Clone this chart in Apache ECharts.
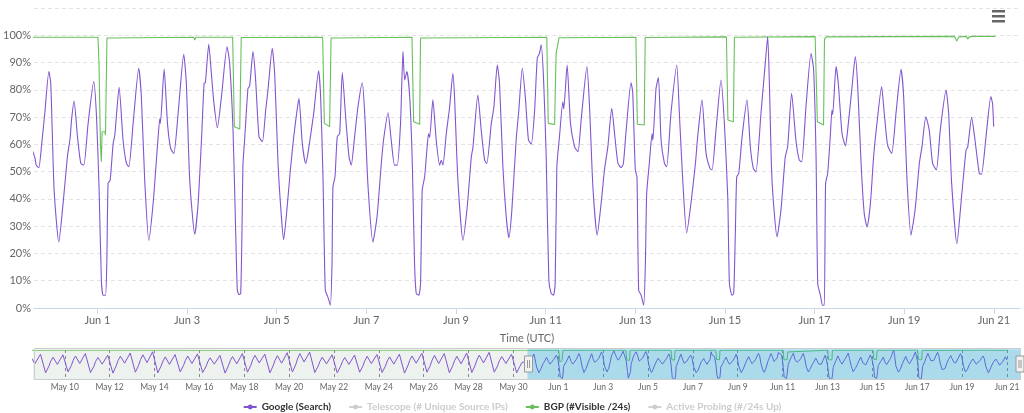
<!DOCTYPE html>
<html><head><meta charset="utf-8">
<script src="https://cdn.jsdelivr.net/npm/echarts@6/dist/echarts.min.js"></script>
<style>html,body{margin:0;padding:0;background:#fff}#c{width:1024px;height:413px}</style>
</head><body><div id="c"></div>
<script>
// ---------- DATA ----------
// times are hours relative to Jun 1 00:00 UTC
const seriesNames = ['Google (Search)', 'Telescope (# Unique Source IPs)', 'BGP (#Visible /24s)', 'Active Probing (#/24s Up)'];
const monthNames = ['Jan','Feb','Mar','Apr','May','Jun','Jul','Aug','Sep','Oct','Nov','Dec'];

// early period (navigator only), one row per day from May 8, values at earlyHours
const earlyFirstDay = 8;
const earlyHours = [3.5, 7, 9, 11.5, 16, 22];
const googleEarly = [
  [26,47,64,78,54,86],[24,46,63,76,52,84],[27,48,66,80,55,88],[25,45,62,75,53,83],
  [23,47,65,79,56,90],[26,49,68,84,58,94],[24,46,63,77,52,85],[27,48,65,80,55,87],
  [25,44,61,74,53,82],[23,47,64,78,54,88],[26,49,67,82,57,86],[24,48,66,81,56,91],
  [27,50,70,88,60,93],[25,46,62,76,54,84],[24,45,61,75,52,83],[26,47,64,79,55,85],
  [25,46,63,77,53,86],[23,47,65,80,56,89],[26,48,66,82,55,88],[24,47,64,79,54,90],
  [25,49,67,83,57,92],[26,47,64,78,55,86],[24,46,58,60]
];
const googleMain = [
[-33.5,55.1],[-32.8,52.4],[-31.4,51.4],[-30.0,59.1],[-28.2,71.4],[-26.0,86.7],[-25.0,82.4],[-23.2,43.2],[-20.7,24.2],[-18.4,38.3],[-16.1,55.4],[-14.6,62.5],[-13.9,68.9],[-12.5,75.9],[-10.7,62.8],[-8.9,53.0],[-7.3,52.4],[-5.0,67.7],[-2.0,83.0],[-0.5,70.1],
[0.9,43.2],[2.1,10.2],[3.0,4.7],[4.3,4.7],[5.0,16.3],[5.7,45.7],[6.8,46.9],[8.4,60.3],[9.3,63.4],[11.6,80.9],[13.7,61.6],[15.5,53.0],[16.8,51.8],[19.1,67.7],[22.1,87.9],[23.5,77.5],
[25.3,46.9],[27.5,24.8],[29.8,38.3],[32.1,59.1],[33.4,69.5],[33.7,67.7],[35.7,87.6],[37.5,67.7],[39.2,58.5],[40.9,56.7],[43.2,71.4],[46.2,93.0],[47.6,82.4],
[49.4,46.9],[52.1,27.0],[53.9,38.3],[55.7,61.6],[57.1,82.4],[57.8,82.6],[59.6,96.7],[61.0,86.0],[62.3,75.6],[64.2,66.1],[66.4,77.5],[69.4,95.8],
[70.8,89.7],[72.6,65.2],[74.0,28.5],[74.9,6.5],[75.8,4.9],[76.7,5.3],[77.4,28.5],[77.9,52.4],[78.8,61.6],[80.6,80.5],[81.5,81.4],[83.3,94.0],[84.7,83.6],[86.5,62.8],[88.3,61.0],[90.1,72.6],[91.3,79.9],[93.6,95.2],[94.9,86.0],
[96.7,53.0],[98.5,33.4],[99.7,25.1],[101.1,33.4],[103.3,50.6],[105.1,62.8],[106.9,72.6],[107.9,76.9],[109.7,60.3],[111.5,53.0],[112.7,56.7],[115.8,71.4],[118.4,87.0],[119.5,77.5],
[120.8,46.9],[122.0,6.5],[123.4,4.0],[124.7,1.0],[125.6,16.3],[126.1,44.4],[127.2,48.1],[128.4,62.8],[129.7,64.0],[131.1,86.3],[132.9,70.1],[134.7,55.4],[135.9,52.4],[137.7,62.8],[139.5,73.8],[141.8,82.6],[143.1,71.4],
[144.9,44.4],[147.5,24.2],[149.7,33.4],[152.0,53.0],[153.2,61.6],[155.6,71.6],[157.3,61.6],[159.1,52.4],[160.5,52.4],[162.3,67.7],[163.6,94.0],[164.5,83.6],[165.7,86.7],[167.2,77.5],
[168.6,53.0],[169.8,16.3],[170.7,5.3],[172.1,4.7],[173.0,8.9],[173.9,43.2],[175.2,48.1],[176.1,55.4],[177.3,64.0],[177.9,62.5],[179.6,76.3],[181.4,61.6],[183.2,52.4],[184.1,54.2],[185.0,52.4],[186.8,64.0],[188.6,73.8],[190.3,86.0],[191.2,77.5],
[193.0,46.9],[195.7,24.8],[198.0,37.1],[200.2,55.4],[201.1,59.1],[203.7,78.1],[205.5,65.2],[207.3,54.2],[208.5,53.0],[210.9,67.7],[212.3,73.8],[214.1,89.1],[215.3,82.4],
[217.1,51.8],[218.9,33.4],[220.3,25.8],[221.9,35.9],[224.2,61.6],[225.5,71.4],[227.5,87.9],[229.1,77.5],[230.8,61.6],[232.3,60.1],[234.1,72.6],[235.5,91.6],[236.7,93.4],[237.6,96.5],[238.9,83.6],
[240.3,55.4],[241.7,10.2],[243.0,5.3],[244.2,4.7],[245.1,8.9],[246.0,51.8],[247.4,62.8],[249.2,75.6],[249.7,73.0],[251.5,89.1],[253.3,67.7],[255.5,59.1],[257.3,57.3],[259.0,68.9],[262.1,88.5],[263.5,73.8],
[265.3,44.4],[267.6,26.7],[269.7,38.3],[271.5,50.6],[273.3,59.1],[275.4,73.2],[276.9,64.0],[278.7,53.0],[280.4,51.5],[281.6,52.9],[283.1,65.2],[285.7,82.6],[286.6,79.3],
[288.0,50.6],[288.9,48.1],[289.8,6.5],[291.1,4.7],[292.5,1.0],[293.4,16.3],[294.1,42.0],[295.5,53.0],[297.0,64.0],[297.4,61.5],[299.1,80.5],[300.4,84.5],[301.8,61.6],[303.6,53.0],[304.8,51.8],[307.1,71.4],[310.2,89.1],[311.6,71.4],
[313.4,46.9],[315.5,27.5],[317.8,38.3],[320.2,53.0],[321.4,62.8],[323.7,76.3],[325.9,56.7],[328.0,51.2],[329.1,50.6],[331.2,65.2],[333.9,83.6],[335.7,67.7],
[337.5,40.8],[338.4,8.9],[339.8,4.7],[340.7,5.3],[341.6,28.5],[342.3,48.1],[343.4,49.3],[345.1,62.2],[347.8,76.3],[349.6,59.1],[351.2,51.2],[352.6,49.9],[355.3,71.4],[357.6,89.7],[358.9,99.5],[359.8,82.4],
[361.2,46.9],[363.9,26.1],[366.0,35.9],[368.3,55.4],[369.6,59.1],[371.7,78.7],[374.0,61.6],[375.8,54.2],[377.1,53.6],[379.4,73.8],[382.1,93.4],[383.5,87.3],
[384.8,55.4],[385.7,8.9],[387.1,4.7],[388.3,1.0],[389.2,1.0],[389.9,45.7],[391.0,49.3],[392.4,62.8],[393.3,72.6],[393.7,71.0],[395.5,88.5],[396.7,82.4],[398.7,64.0],[400.5,59.4],[401.7,65.2],[403.9,79.9],[405.8,92.2],[407.1,81.2],
[408.9,53.0],[410.6,34.6],[412.1,29.7],[413.9,38.3],[415.6,55.4],[417.4,67.7],[419.9,81.2],[421.3,71.4],[423.1,59.7],[425.3,56.7],[427.6,71.4],[430.3,87.5],[431.7,77.5],
[433.5,46.9],[435.6,26.7],[437.8,35.9],[440.1,53.0],[441.5,59.1],[443.6,70.1],[445.4,65.2],[447.2,53.0],[449.2,50.6],[451.3,65.2],[454.4,79.9],[455.8,71.4],
[457.4,45.7],[460.2,23.6],[462.7,40.8],[465.1,57.9],[466.0,59.0],[468.1,69.9],[469.9,61.6],[472.2,49.3],[473.4,49.1],[475.8,62.8],[478.4,77.5],[479.3,75.0],[479.9,66.5]
];
const bgpEarly = [[-570,99.3],[-450,99.4],[-330,99.2],[-210,99.4],[-90,99.3],[-34,99.3]];
const bgpMain = [
[-33.5,99.3],[0.3,99.3],[0.8,90],[1.6,60],[2.1,53.6],[2.5,64.6],[4.0,64.6],[4.3,63.4],[4.8,63.4],[5.1,99.0],
[51.5,99.3],[52.1,98.2],[52.7,99.3],[72.4,99.3],[73.3,66.5],[76.2,65.6],[77.0,99.2],
[120.6,99.3],[121.5,67.7],[124.3,66.5],[125.1,99.0],[168.4,99.3],[169.3,68.3],[172.5,67.4],[173.0,99.0],
[219.5,99.2],[220.1,98.5],[220.7,99.2],[240.6,99.3],[241.4,67.7],[244.8,67.3],[245.6,93.4],[247.2,99.1],
[288.3,99.3],[289.1,67.4],[292.8,67.1],[293.3,99.2],[336.8,99.4],[337.6,68.9],[340.5,68.3],[341.1,99.3],
[384.3,99.5],[385.5,68.3],[388.8,67.1],[389.3,98.5],[390.2,99.4],[459.0,99.6],[460.1,97.9],[461.3,99.4],
[465.2,99.6],[466.0,98.6],[466.8,99.4],[467.8,99.0],[468.6,99.6],[480.8,99.6]
];
// axis ranges (hours relative to Jun 1)
const navStartH = -562, viewStartH = -34, viewEndH = 494;

// ---------- BUILD ----------
const T0 = Date.UTC(2022, 5, 1);
const HOUR = 3600000, DAY2 = 48 * HOUR;
const toMs = h => T0 + h * HOUR;
const googleData = [];
googleEarly.forEach((row, i) => {
  row.forEach((v, j) => googleData.push([toMs((earlyFirstDay + i - 32) * 24 + earlyHours[j]), v]));
});
googleMain.forEach(p => googleData.push([toMs(p[0]), p[1]]));
const bgpData = bgpEarly.concat(bgpMain).map(p => [toMs(p[0]), p[1]]);
const fmtDate = v => { const d = new Date(v); return monthNames[d.getUTCMonth()] + ' ' + d.getUTCDate(); };

const PURPLE = '#8155d0', GREEN = '#68bf5c';
const font = 'Lato, "DejaVu Sans", sans-serif';

const chart = echarts.init(document.getElementById('c'), null, {renderer: 'canvas'});
chart.setOption({
  animation: false,
  textStyle: {fontFamily: font},
  grid: [
    {left: 32, right: 4, top: 8, height: 300},
    {left: 33, right: 4, top: 350, height: 30, show: true, backgroundColor: '#eef2ee', borderWidth: 0}
  ],
  xAxis: [
    {type: 'value', gridIndex: 0, min: toMs(navStartH), max: toMs(viewEndH),
     minInterval: DAY2, maxInterval: DAY2,
     name: 'Time (UTC)', nameLocation: 'middle', nameGap: 25,
     nameTextStyle: {color: '#666', fontSize: 11, fontFamily: font},
     axisLine: {lineStyle: {color: '#ccd6eb'}},
     axisTick: {length: 6, lineStyle: {color: '#ccd6eb'}},
     axisLabel: {color: '#666', fontSize: 11, margin: 7, formatter: fmtDate, showMinLabel: false, showMaxLabel: false, fontFamily: font},
     splitLine: {show: false}},
    {type: 'value', gridIndex: 1, min: toMs(navStartH), max: toMs(viewEndH),
     minInterval: DAY2, maxInterval: DAY2,
     axisLine: {show: false}, axisTick: {show: false},
     axisLabel: {color: '#666', fontSize: 8.5, margin: 3, formatter: fmtDate, showMinLabel: false, showMaxLabel: false, fontFamily: font},
     splitLine: {show: true, showMinLine: false, showMaxLine: false, lineStyle: {color: '#888', type: [3, 3], width: 1}}}
  ],
  yAxis: [
    {type: 'value', gridIndex: 0, min: 0, max: 110, interval: 10,
     axisLine: {show: false}, axisTick: {show: false},
     axisLabel: {color: '#666', fontSize: 11, margin: 3, formatter: v => v > 100 ? '' : v + '%', fontFamily: font},
     splitLine: {lineStyle: {color: '#e3e3e3', type: [4, 3]}}},
    {type: 'value', gridIndex: 1, min: 0, max: 100, show: false}
  ],
  dataZoom: [{
    type: 'slider', xAxisIndex: 0, filterMode: 'none',
    startValue: toMs(viewStartH), endValue: toMs(viewEndH),
    left: 33, right: 4, top: 348, height: 32,
    showDataShadow: false, showDetail: false, brushSelect: false, moveHandleSize: 0,
    backgroundColor: 'rgba(0,0,0,0)', borderColor: '#cccccc',
    fillerColor: 'rgba(0,160,230,0.28)',
    handleIcon: 'path://M0,0 L8,0 L8,16 L0,16 Z M3,4 L3,12 M5,4 L5,12',
    handleSize: 16,
    handleStyle: {color: '#f2f2f2', borderColor: '#999999', borderWidth: 1},
    emphasis: {handleStyle: {color: '#f2f2f2', borderColor: '#999999'}}
  }],
  legend: {
    data: seriesNames, left: 'center', top: 397, itemGap: 17, itemWidth: 13, itemHeight: 6,
    textStyle: {color: '#333', fontSize: 10, fontWeight: 'bold', fontFamily: font},
    inactiveColor: '#cccccc',
    selected: {[seriesNames[1]]: false, [seriesNames[3]]: false}
  },
  graphic: [
    {type: 'rect', right: 19, top: 10, shape: {width: 13, height: 2.5}, style: {fill: '#666'}},
    {type: 'rect', right: 19, top: 15, shape: {width: 13, height: 2.5}, style: {fill: '#666'}},
    {type: 'rect', right: 19, top: 20, shape: {width: 13, height: 2.5}, style: {fill: '#666'}}
  ],
  series: [
    {name: seriesNames[0], type: 'line', xAxisIndex: 0, yAxisIndex: 0, data: googleData,
     showSymbol: false, symbol: 'circle', smooth: 0.2, color: PURPLE, lineStyle: {width: 1.1, color: PURPLE}, z: 3},
    {name: seriesNames[1], type: 'line', data: [], color: '#cccccc', symbol: 'circle', showSymbol: false},
    {name: seriesNames[2], type: 'line', xAxisIndex: 0, yAxisIndex: 0, data: bgpData,
     showSymbol: false, symbol: 'circle', color: GREEN, lineStyle: {width: 1.1, color: GREEN}, z: 2},
    {name: seriesNames[3], type: 'line', data: [], color: '#cccccc', symbol: 'circle', showSymbol: false},
    {name: seriesNames[0], type: 'line', xAxisIndex: 1, yAxisIndex: 1, data: googleData,
     showSymbol: false, symbol: 'circle', color: PURPLE, lineStyle: {width: 1, color: PURPLE}},
    {name: seriesNames[2], type: 'line', xAxisIndex: 1, yAxisIndex: 1, data: bgpData,
     showSymbol: false, symbol: 'circle', color: GREEN, lineStyle: {width: 1, color: GREEN}}
  ]
});
</script>
</body></html>
